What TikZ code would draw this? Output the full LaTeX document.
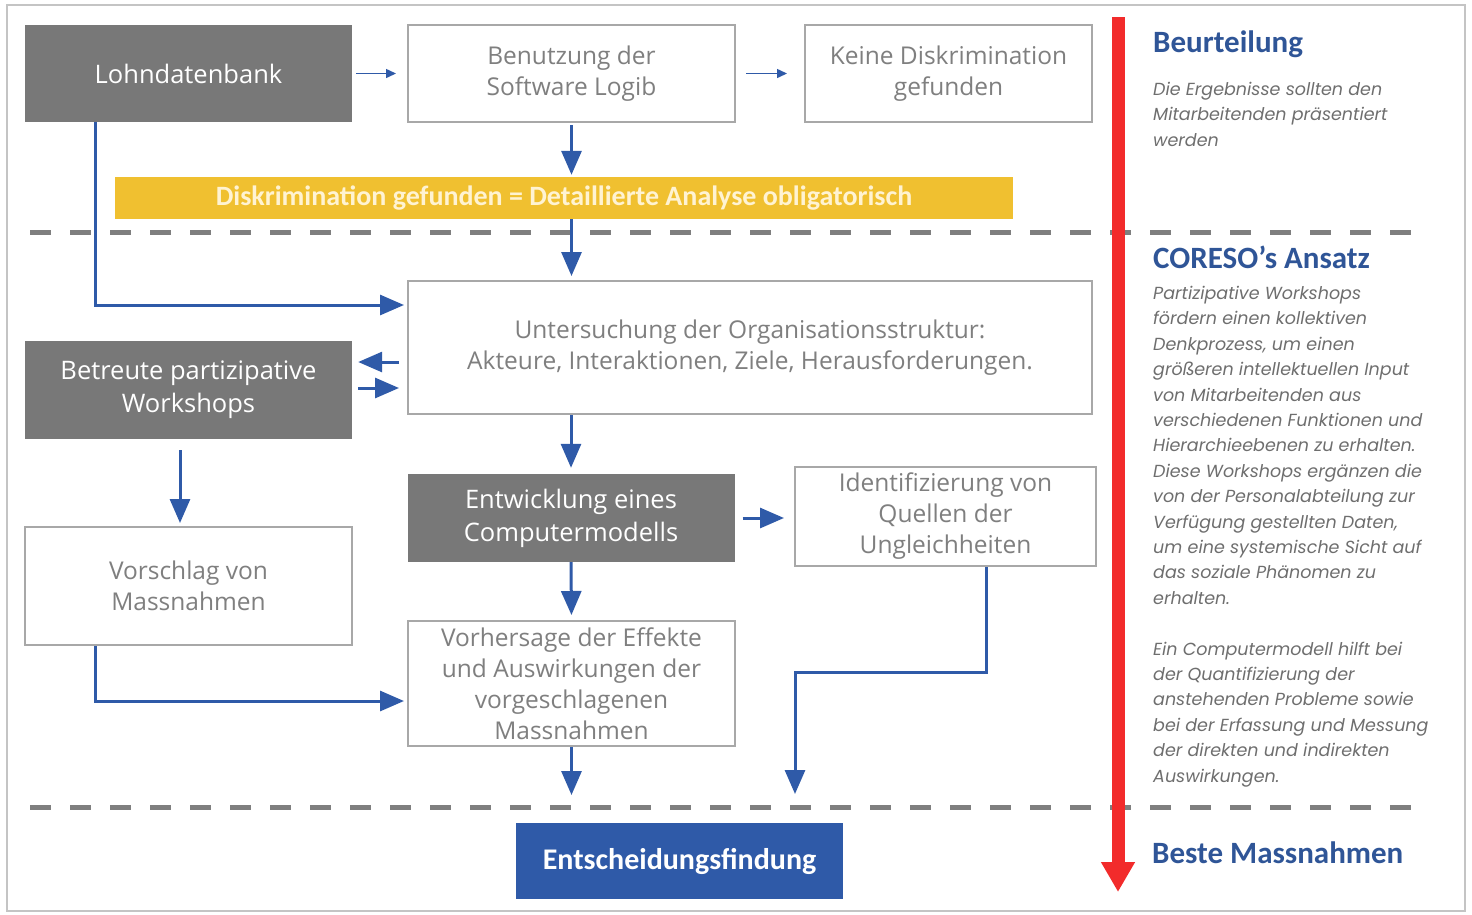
\documentclass[tikz,border=0pt]{standalone}
\usepackage{fontspec}
\setmainfont{Carlito}
\newfontfamily\boxfont{Open Sans}
\newfontfamily\notefont{Poppins}
\usetikzlibrary{arrows.meta}
\definecolor{boxgrey}{HTML}{787878}
\definecolor{rimgrey}{HTML}{A8A8A8}
\definecolor{textgrey}{HTML}{7F7F7F}
\definecolor{notegrey}{HTML}{6E6E6E}
\definecolor{framegrey}{HTML}{C4C4C4}
\definecolor{flowblue}{HTML}{2F5AA8}
\definecolor{headblue}{HTML}{2F5597}
\definecolor{bandyellow}{HTML}{F0C030}
\definecolor{bandtext}{HTML}{FFF3D2}
\definecolor{zeitred}{HTML}{F22B2B}
\tikzset{
  darkbox/.style={fill=boxgrey, text=white, inner sep=0pt, align=center,
    font=\boxfont\fontsize{25.5}{33}\selectfont},
  lightbox/.style={draw=rimgrey, line width=2pt, fill=white, text=textgrey, inner sep=0pt,
    align=center, font=\boxfont\fontsize{24.5}{31}\selectfont},
  flow/.style={draw=flowblue, line width=3pt, -{Triangle[length=24pt,width=20pt]}},
  smallflow/.style={draw=flowblue, line width=1.5pt, -{Triangle[length=10pt,width=9pt]}},
  trenn/.style={draw=textgrey, line width=5pt, dash pattern=on 21pt off 19pt},
  head/.style={text=headblue, inner sep=0pt, font=\bfseries\fontsize{31}{36}\selectfont},
  note/.style={text=notegrey, inner sep=0pt, align=left,
    font=\notefont\itshape\fontsize{17.5}{25.4}\selectfont}
}
\begin{document}
\begin{tikzpicture}[x=1pt,y=-1pt]
\useasboundingbox (0,0) rectangle (1472,914);
\draw[framegrey, line width=1.5pt] (7,5) rectangle (1465,911);
\foreach \y in {232,807}
  \draw[trenn] (30,\y) -- (1426,\y);

\node[darkbox, minimum width=327pt, minimum height=97pt] (lohn) at (188.5,73.5) {Lohndatenbank};
\node[lightbox, minimum width=327pt, minimum height=97pt] (logib) at (571.5,73.5) {Benutzung der\\Software Logib};
\node[lightbox, minimum width=287pt, minimum height=97pt] (keine) at (948.5,73.5) {Keine Diskrimination\\gefunden};
\node[fill=bandyellow, text=bandtext, minimum width=898pt, minimum height=42pt, inner sep=0pt,
  font=\bfseries\fontsize{28}{30}\selectfont] (band) at (564,198) {Diskrimination gefunden = Detaillierte Analyse obligatorisch};
\node[lightbox, minimum width=684pt, minimum height=133pt] (unters) at (750,347.5) {Untersuchung der Organisationsstruktur:\\Akteure, Interaktionen, Ziele, Herausforderungen.};
\node[darkbox, minimum width=327pt, minimum height=98pt] (workshops) at (188.5,390) {Betreute partizipative\\Workshops};
\node[darkbox, minimum width=327pt, minimum height=88pt] (modell) at (571,518) {Entwicklung eines\\Computermodells};
\node[lightbox, minimum width=301pt, minimum height=99pt] (quellen) at (945.5,516.5) {Identifizierung von\\Quellen der\\Ungleichheiten};
\node[lightbox, minimum width=327pt, minimum height=118pt] (vorschlag) at (188.5,586) {Vorschlag von\\Massnahmen};
\node[lightbox, minimum width=327pt, minimum height=125pt] (vorhersage) at (571.5,683.5) {Vorhersage der Effekte\\und Auswirkungen der\\vorgeschlagenen\\Massnahmen};
\node[fill=flowblue, text=white, minimum width=327pt, minimum height=76pt, inner sep=0pt,
  font=\bfseries\fontsize{30}{34}\selectfont] (entscheid) at (679.5,861) {Entscheidungsfindung};

\coordinate (knick) at (795,672);
\coordinate (quellenend) at (795,794);
\coordinate (vorhersageend) at (571.5,795);
\draw[smallflow, shorten <=4pt, shorten >=11pt] (lohn.east) -- (logib.west);
\draw[smallflow, shorten <=10pt, shorten >=17pt] (logib.east) -- (keine.west);
\draw[flow, shorten <=2pt, shorten >=2pt] (logib.south) -- (logib.south |- band.north);
\draw[flow, shorten >=4pt] (logib.south |- band.south) -- (logib.south |- unters.north);
\draw[flow, shorten >=3pt] ([xshift=-93.5pt]lohn.south) |- ([yshift=42.5pt]unters.west);
\draw[flow] ([shift={(-8pt,-14.5pt)}]unters.west) -- ([shift={(6pt,28pt)}]workshops.east);
\draw[flow] ([shift={(6pt,2pt)}]workshops.east) -- ([shift={(-8pt,-40.5pt)}]unters.west);
\draw[flow] ([shift={(-8.5pt,-11pt)}]workshops.south) -- ([shift={(-8.5pt,3pt)}]vorschlag.north);
\draw[flow, shorten >=6pt] (modell.north |- unters.south) -- (modell.north);
\draw[flow, shorten <=8pt, shorten >=10pt] (modell.east) -- (modell.east -| quellen.west);
\draw[flow, shorten >=5pt] (modell.south) -- (vorhersage.north);
\draw[flow, shorten >=3pt] ([xshift=-93.5pt]vorschlag.south) |- ([yshift=-17.5pt]vorhersage.west);
\draw[flow] ([xshift=40.5pt]quellen.south) |- (knick) -- (quellenend);
\draw[flow] (vorhersage.south) -- (vorhersageend);

\coordinate (zeitoben) at (1118,17);
\coordinate (zeitunten) at (1118,892);
\draw[zeitred, line width=13pt, -{Triangle[length=30pt,width=32pt]}] (zeitoben) -- (zeitunten);

\node[head, anchor=base west] (beurteilung) at (1153,52) {Beurteilung};
\node[note, anchor=north west] (beurtext) at (1153,82) {Die Ergebnisse sollten den\\Mitarbeitenden präsentiert\\werden};
\node[head, anchor=base west] (ansatz) at (1153,268) {CORESO’s Ansatz};
\node[note, anchor=north west] (ansatztext) at (1153,286) {Partizipative Workshops\\fördern einen kollektiven\\Denkprozess, um einen\\größeren intellektuellen Input\\von Mitarbeitenden aus\\verschiedenen Funktionen und\\Hierarchieebenen zu erhalten.\\Diese Workshops ergänzen die\\von der Personalabteilung zur\\Verfügung gestellten Daten,\\um eine systemische Sicht auf\\das soziale Phänomen zu\\erhalten.\\[25.4pt]Ein Computermodell hilft bei\\der Quantifizierung der\\anstehenden Probleme sowie\\bei der Erfassung und Messung\\der direkten und indirekten\\Auswirkungen.};
\node[head, anchor=base west] (beste) at (1152,863) {Beste Massnahmen};
\end{tikzpicture}
\end{document}
